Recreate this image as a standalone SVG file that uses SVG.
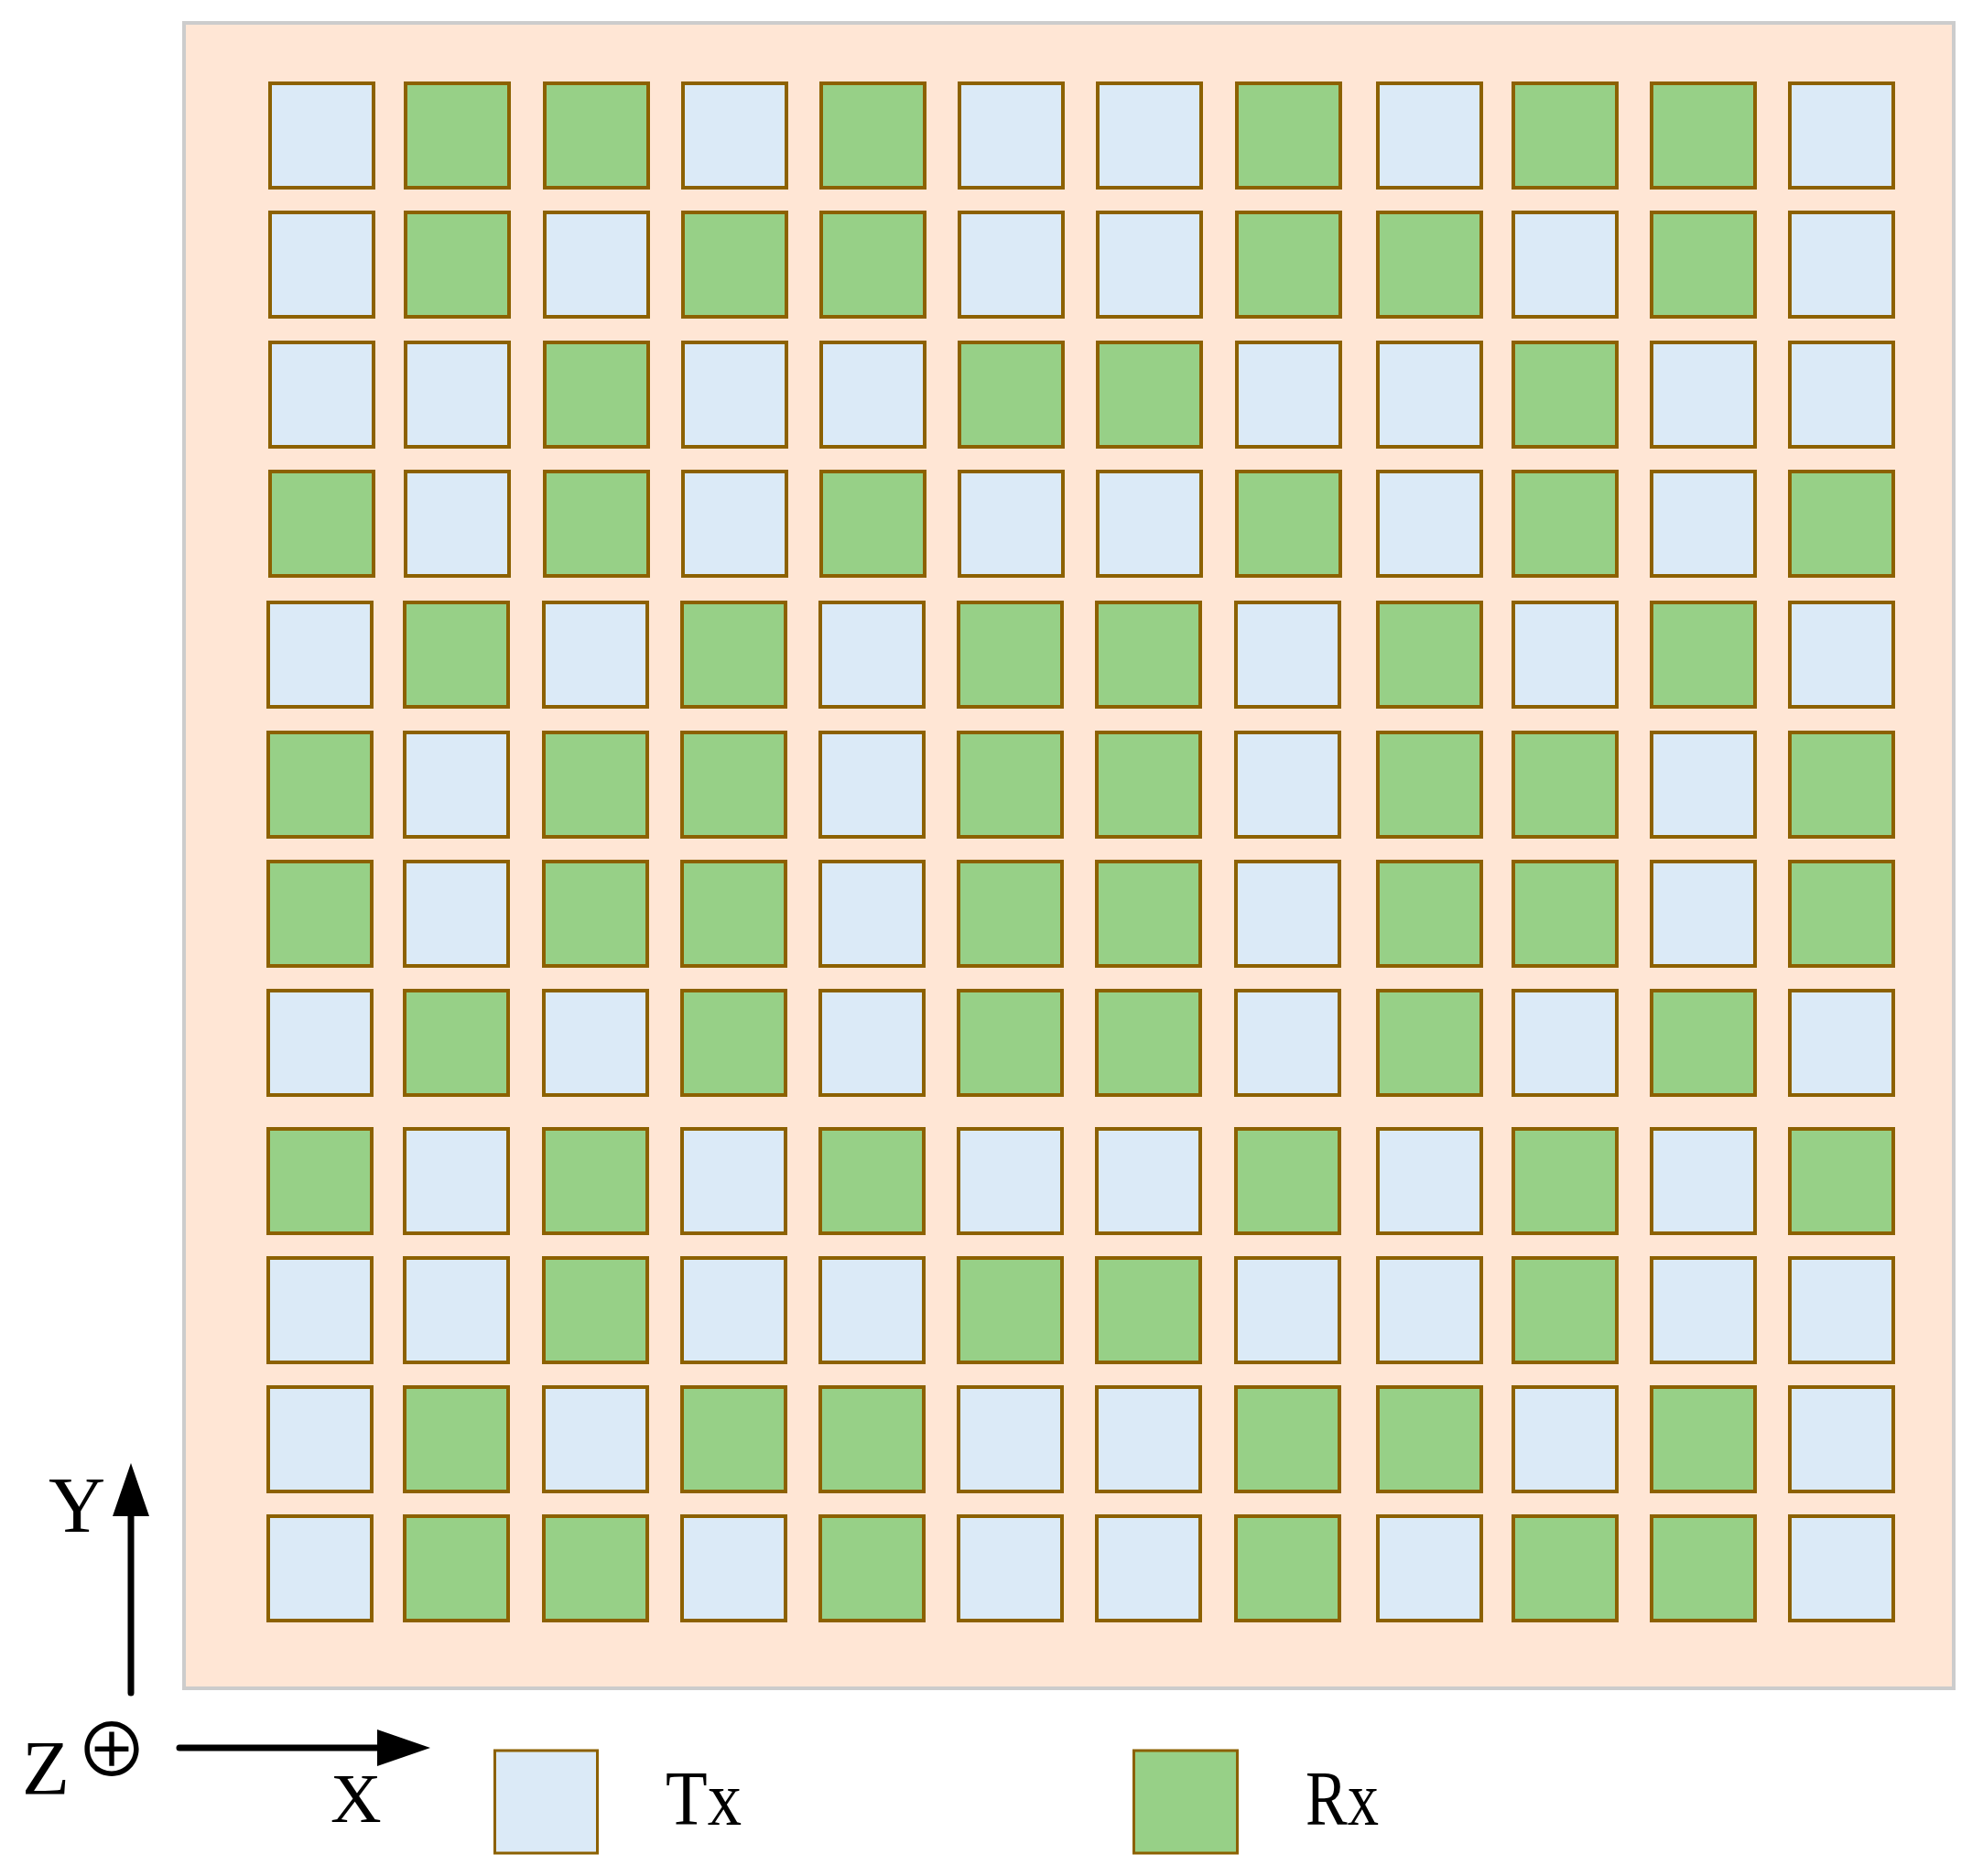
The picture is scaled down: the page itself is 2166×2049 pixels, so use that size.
<svg xmlns="http://www.w3.org/2000/svg" width="2166" height="2049" viewBox="0 0 2166 2049">
<style>
.bg{fill:#ffe6d5;stroke:#cccccc;stroke-width:4}
.tx{fill:#dbeaf7;stroke:#8c6100;stroke-width:4}
.rx{fill:#97d087;stroke:#8c6100;stroke-width:4}
.lg{stroke-width:3}
.lbl{font-family:"Liberation Serif","Times New Roman",serif;fill:#000}
.axis{stroke:#000;stroke-width:7;stroke-linecap:round;fill:none}
</style>
<defs>
<marker id="ah" markerUnits="userSpaceOnUse" viewBox="0 0 58 40" markerWidth="58" markerHeight="40" refX="0" refY="20" orient="auto" overflow="visible">
<path d="M0,0 L58,20 L0,40 Z" fill="#000"/>
</marker>
</defs>
<rect id="board" class="bg" x="201" y="25" width="1933" height="1819"/>
<g id="r1c1"><rect class="tx" x="295" y="91" width="113" height="114"/></g>
<g id="r1c2"><rect class="rx" x="443" y="91" width="113" height="114"/></g>
<g id="r1c3"><rect class="rx" x="595" y="91" width="113" height="114"/></g>
<g id="r1c4"><rect class="tx" x="746" y="91" width="113" height="114"/></g>
<g id="r1c5"><rect class="rx" x="897" y="91" width="113" height="114"/></g>
<g id="r1c6"><rect class="tx" x="1048" y="91" width="113" height="114"/></g>
<g id="r1c7"><rect class="tx" x="1199" y="91" width="113" height="114"/></g>
<g id="r1c8"><rect class="rx" x="1351" y="91" width="113" height="114"/></g>
<g id="r1c9"><rect class="tx" x="1505" y="91" width="113" height="114"/></g>
<g id="r1c10"><rect class="rx" x="1653" y="91" width="113" height="114"/></g>
<g id="r1c11"><rect class="rx" x="1804" y="91" width="113" height="114"/></g>
<g id="r1c12"><rect class="tx" x="1955" y="91" width="113" height="114"/></g>
<g id="r2c1"><rect class="tx" x="295" y="232" width="113" height="114"/></g>
<g id="r2c2"><rect class="rx" x="443" y="232" width="113" height="114"/></g>
<g id="r2c3"><rect class="tx" x="595" y="232" width="113" height="114"/></g>
<g id="r2c4"><rect class="rx" x="746" y="232" width="113" height="114"/></g>
<g id="r2c5"><rect class="rx" x="897" y="232" width="113" height="114"/></g>
<g id="r2c6"><rect class="tx" x="1048" y="232" width="113" height="114"/></g>
<g id="r2c7"><rect class="tx" x="1199" y="232" width="113" height="114"/></g>
<g id="r2c8"><rect class="rx" x="1351" y="232" width="113" height="114"/></g>
<g id="r2c9"><rect class="rx" x="1505" y="232" width="113" height="114"/></g>
<g id="r2c10"><rect class="tx" x="1653" y="232" width="113" height="114"/></g>
<g id="r2c11"><rect class="rx" x="1804" y="232" width="113" height="114"/></g>
<g id="r2c12"><rect class="tx" x="1955" y="232" width="113" height="114"/></g>
<g id="r3c1"><rect class="tx" x="295" y="374" width="113" height="114"/></g>
<g id="r3c2"><rect class="tx" x="443" y="374" width="113" height="114"/></g>
<g id="r3c3"><rect class="rx" x="595" y="374" width="113" height="114"/></g>
<g id="r3c4"><rect class="tx" x="746" y="374" width="113" height="114"/></g>
<g id="r3c5"><rect class="tx" x="897" y="374" width="113" height="114"/></g>
<g id="r3c6"><rect class="rx" x="1048" y="374" width="113" height="114"/></g>
<g id="r3c7"><rect class="rx" x="1199" y="374" width="113" height="114"/></g>
<g id="r3c8"><rect class="tx" x="1351" y="374" width="113" height="114"/></g>
<g id="r3c9"><rect class="tx" x="1505" y="374" width="113" height="114"/></g>
<g id="r3c10"><rect class="rx" x="1653" y="374" width="113" height="114"/></g>
<g id="r3c11"><rect class="tx" x="1804" y="374" width="113" height="114"/></g>
<g id="r3c12"><rect class="tx" x="1955" y="374" width="113" height="114"/></g>
<g id="r4c1"><rect class="rx" x="295" y="515" width="113" height="114"/></g>
<g id="r4c2"><rect class="tx" x="443" y="515" width="113" height="114"/></g>
<g id="r4c3"><rect class="rx" x="595" y="515" width="113" height="114"/></g>
<g id="r4c4"><rect class="tx" x="746" y="515" width="113" height="114"/></g>
<g id="r4c5"><rect class="rx" x="897" y="515" width="113" height="114"/></g>
<g id="r4c6"><rect class="tx" x="1048" y="515" width="113" height="114"/></g>
<g id="r4c7"><rect class="tx" x="1199" y="515" width="113" height="114"/></g>
<g id="r4c8"><rect class="rx" x="1351" y="515" width="113" height="114"/></g>
<g id="r4c9"><rect class="tx" x="1505" y="515" width="113" height="114"/></g>
<g id="r4c10"><rect class="rx" x="1653" y="515" width="113" height="114"/></g>
<g id="r4c11"><rect class="tx" x="1804" y="515" width="113" height="114"/></g>
<g id="r4c12"><rect class="rx" x="1955" y="515" width="113" height="114"/></g>
<g id="r5c1"><rect class="tx" x="293" y="658" width="113" height="114"/></g>
<g id="r5c2"><rect class="rx" x="442" y="658" width="113" height="114"/></g>
<g id="r5c3"><rect class="tx" x="594" y="658" width="113" height="114"/></g>
<g id="r5c4"><rect class="rx" x="745" y="658" width="113" height="114"/></g>
<g id="r5c5"><rect class="tx" x="896" y="658" width="113" height="114"/></g>
<g id="r5c6"><rect class="rx" x="1047" y="658" width="113" height="114"/></g>
<g id="r5c7"><rect class="rx" x="1198" y="658" width="113" height="114"/></g>
<g id="r5c8"><rect class="tx" x="1350" y="658" width="113" height="114"/></g>
<g id="r5c9"><rect class="rx" x="1505" y="658" width="113" height="114"/></g>
<g id="r5c10"><rect class="tx" x="1653" y="658" width="113" height="114"/></g>
<g id="r5c11"><rect class="rx" x="1804" y="658" width="113" height="114"/></g>
<g id="r5c12"><rect class="tx" x="1955" y="658" width="113" height="114"/></g>
<g id="r6c1"><rect class="rx" x="293" y="800" width="113" height="114"/></g>
<g id="r6c2"><rect class="tx" x="442" y="800" width="113" height="114"/></g>
<g id="r6c3"><rect class="rx" x="594" y="800" width="113" height="114"/></g>
<g id="r6c4"><rect class="rx" x="745" y="800" width="113" height="114"/></g>
<g id="r6c5"><rect class="tx" x="896" y="800" width="113" height="114"/></g>
<g id="r6c6"><rect class="rx" x="1047" y="800" width="113" height="114"/></g>
<g id="r6c7"><rect class="rx" x="1198" y="800" width="113" height="114"/></g>
<g id="r6c8"><rect class="tx" x="1350" y="800" width="113" height="114"/></g>
<g id="r6c9"><rect class="rx" x="1505" y="800" width="113" height="114"/></g>
<g id="r6c10"><rect class="rx" x="1653" y="800" width="113" height="114"/></g>
<g id="r6c11"><rect class="tx" x="1804" y="800" width="113" height="114"/></g>
<g id="r6c12"><rect class="rx" x="1955" y="800" width="113" height="114"/></g>
<g id="r7c1"><rect class="rx" x="293" y="941" width="113" height="114"/></g>
<g id="r7c2"><rect class="tx" x="442" y="941" width="113" height="114"/></g>
<g id="r7c3"><rect class="rx" x="594" y="941" width="113" height="114"/></g>
<g id="r7c4"><rect class="rx" x="745" y="941" width="113" height="114"/></g>
<g id="r7c5"><rect class="tx" x="896" y="941" width="113" height="114"/></g>
<g id="r7c6"><rect class="rx" x="1047" y="941" width="113" height="114"/></g>
<g id="r7c7"><rect class="rx" x="1198" y="941" width="113" height="114"/></g>
<g id="r7c8"><rect class="tx" x="1350" y="941" width="113" height="114"/></g>
<g id="r7c9"><rect class="rx" x="1505" y="941" width="113" height="114"/></g>
<g id="r7c10"><rect class="rx" x="1653" y="941" width="113" height="114"/></g>
<g id="r7c11"><rect class="tx" x="1804" y="941" width="113" height="114"/></g>
<g id="r7c12"><rect class="rx" x="1955" y="941" width="113" height="114"/></g>
<g id="r8c1"><rect class="tx" x="293" y="1082" width="113" height="114"/></g>
<g id="r8c2"><rect class="rx" x="442" y="1082" width="113" height="114"/></g>
<g id="r8c3"><rect class="tx" x="594" y="1082" width="113" height="114"/></g>
<g id="r8c4"><rect class="rx" x="745" y="1082" width="113" height="114"/></g>
<g id="r8c5"><rect class="tx" x="896" y="1082" width="113" height="114"/></g>
<g id="r8c6"><rect class="rx" x="1047" y="1082" width="113" height="114"/></g>
<g id="r8c7"><rect class="rx" x="1198" y="1082" width="113" height="114"/></g>
<g id="r8c8"><rect class="tx" x="1350" y="1082" width="113" height="114"/></g>
<g id="r8c9"><rect class="rx" x="1505" y="1082" width="113" height="114"/></g>
<g id="r8c10"><rect class="tx" x="1653" y="1082" width="113" height="114"/></g>
<g id="r8c11"><rect class="rx" x="1804" y="1082" width="113" height="114"/></g>
<g id="r8c12"><rect class="tx" x="1955" y="1082" width="113" height="114"/></g>
<g id="r9c1"><rect class="rx" x="293" y="1233" width="113" height="114"/></g>
<g id="r9c2"><rect class="tx" x="442" y="1233" width="113" height="114"/></g>
<g id="r9c3"><rect class="rx" x="594" y="1233" width="113" height="114"/></g>
<g id="r9c4"><rect class="tx" x="745" y="1233" width="113" height="114"/></g>
<g id="r9c5"><rect class="rx" x="896" y="1233" width="113" height="114"/></g>
<g id="r9c6"><rect class="tx" x="1047" y="1233" width="113" height="114"/></g>
<g id="r9c7"><rect class="tx" x="1198" y="1233" width="113" height="114"/></g>
<g id="r9c8"><rect class="rx" x="1350" y="1233" width="113" height="114"/></g>
<g id="r9c9"><rect class="tx" x="1505" y="1233" width="113" height="114"/></g>
<g id="r9c10"><rect class="rx" x="1653" y="1233" width="113" height="114"/></g>
<g id="r9c11"><rect class="tx" x="1804" y="1233" width="113" height="114"/></g>
<g id="r9c12"><rect class="rx" x="1955" y="1233" width="113" height="114"/></g>
<g id="r10c1"><rect class="tx" x="293" y="1374" width="113" height="114"/></g>
<g id="r10c2"><rect class="tx" x="442" y="1374" width="113" height="114"/></g>
<g id="r10c3"><rect class="rx" x="594" y="1374" width="113" height="114"/></g>
<g id="r10c4"><rect class="tx" x="745" y="1374" width="113" height="114"/></g>
<g id="r10c5"><rect class="tx" x="896" y="1374" width="113" height="114"/></g>
<g id="r10c6"><rect class="rx" x="1047" y="1374" width="113" height="114"/></g>
<g id="r10c7"><rect class="rx" x="1198" y="1374" width="113" height="114"/></g>
<g id="r10c8"><rect class="tx" x="1350" y="1374" width="113" height="114"/></g>
<g id="r10c9"><rect class="tx" x="1505" y="1374" width="113" height="114"/></g>
<g id="r10c10"><rect class="rx" x="1653" y="1374" width="113" height="114"/></g>
<g id="r10c11"><rect class="tx" x="1804" y="1374" width="113" height="114"/></g>
<g id="r10c12"><rect class="tx" x="1955" y="1374" width="113" height="114"/></g>
<g id="r11c1"><rect class="tx" x="293" y="1515" width="113" height="114"/></g>
<g id="r11c2"><rect class="rx" x="442" y="1515" width="113" height="114"/></g>
<g id="r11c3"><rect class="tx" x="594" y="1515" width="113" height="114"/></g>
<g id="r11c4"><rect class="rx" x="745" y="1515" width="113" height="114"/></g>
<g id="r11c5"><rect class="rx" x="896" y="1515" width="113" height="114"/></g>
<g id="r11c6"><rect class="tx" x="1047" y="1515" width="113" height="114"/></g>
<g id="r11c7"><rect class="tx" x="1198" y="1515" width="113" height="114"/></g>
<g id="r11c8"><rect class="rx" x="1350" y="1515" width="113" height="114"/></g>
<g id="r11c9"><rect class="rx" x="1505" y="1515" width="113" height="114"/></g>
<g id="r11c10"><rect class="tx" x="1653" y="1515" width="113" height="114"/></g>
<g id="r11c11"><rect class="rx" x="1804" y="1515" width="113" height="114"/></g>
<g id="r11c12"><rect class="tx" x="1955" y="1515" width="113" height="114"/></g>
<g id="r12c1"><rect class="tx" x="293" y="1656" width="113" height="114"/></g>
<g id="r12c2"><rect class="rx" x="442" y="1656" width="113" height="114"/></g>
<g id="r12c3"><rect class="rx" x="594" y="1656" width="113" height="114"/></g>
<g id="r12c4"><rect class="tx" x="745" y="1656" width="113" height="114"/></g>
<g id="r12c5"><rect class="rx" x="896" y="1656" width="113" height="114"/></g>
<g id="r12c6"><rect class="tx" x="1047" y="1656" width="113" height="114"/></g>
<g id="r12c7"><rect class="tx" x="1198" y="1656" width="113" height="114"/></g>
<g id="r12c8"><rect class="rx" x="1350" y="1656" width="113" height="114"/></g>
<g id="r12c9"><rect class="tx" x="1505" y="1656" width="113" height="114"/></g>
<g id="r12c10"><rect class="rx" x="1653" y="1656" width="113" height="114"/></g>
<g id="r12c11"><rect class="rx" x="1804" y="1656" width="113" height="114"/></g>
<g id="r12c12"><rect class="tx" x="1955" y="1656" width="113" height="114"/></g>
<g id="connectors">
<line class="axis" x1="143" y1="1849" x2="143" y2="1656" marker-end="url(#ah)"/>
<line class="axis" x1="196" y1="1909" x2="412" y2="1909" marker-end="url(#ah)"/>
</g>
<g id="axis-labels">
<text class="lbl" x="53" y="1673" font-size="86">Y</text>
<text class="lbl" x="24" y="1960" font-size="85">Z</text>
<text x="122" y="1940" font-size="80" text-anchor="middle" font-family="'Noto Sans CJK JP','DejaVu Sans',sans-serif">⊕</text>
<text class="lbl" x="361" y="1990" font-size="77">X</text>
</g>
<g id="legend-tx">
<rect class="tx lg" x="540.5" y="1912" width="112" height="112"/>
<text class="lbl" x="727" y="1993" font-size="85" textLength="83" lengthAdjust="spacingAndGlyphs">Tx</text>
</g>
<g id="legend-rx">
<rect class="rx lg" x="1238.5" y="1912" width="113" height="112"/>
<text class="lbl" x="1426" y="1993" font-size="85" textLength="80" lengthAdjust="spacingAndGlyphs">Rx</text>
</g>
</svg>
